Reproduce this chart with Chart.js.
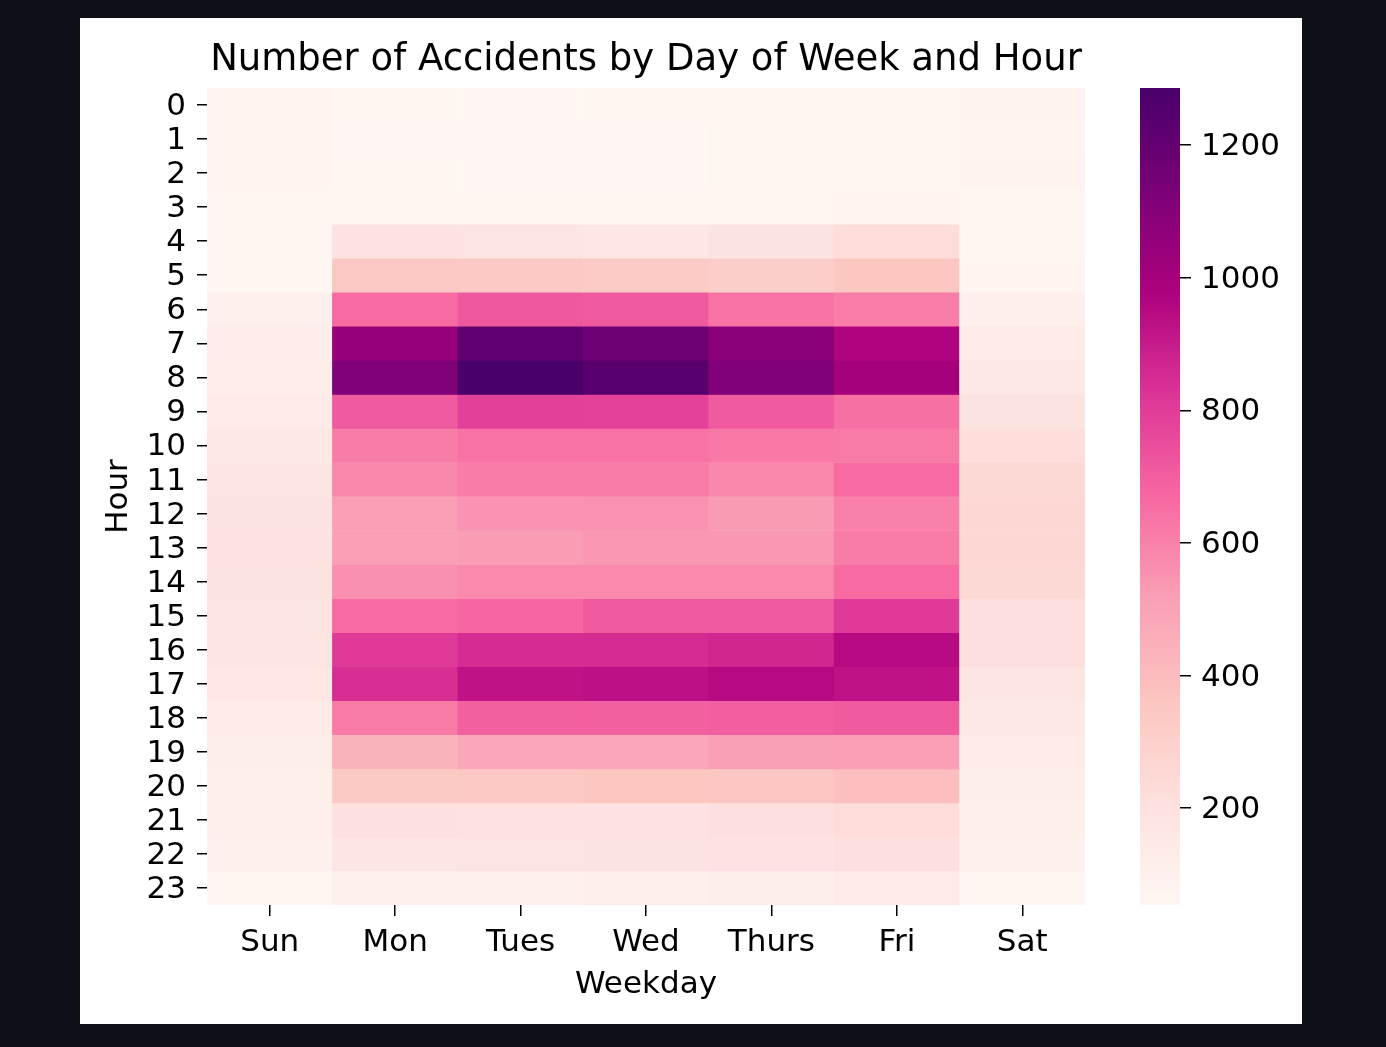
<!DOCTYPE html>
<html><head><meta charset="utf-8">
<script src="https://cdn.jsdelivr.net/npm/chart.js@4.4.1/dist/chart.umd.min.js"></script>
<style>
html,body{margin:0;padding:0;background:#0d1117;width:1386px;height:1047px;overflow:hidden}
#panel{position:absolute;left:80px;top:18px;width:1222px;height:1006px;background:#fff}
#main{position:absolute;left:0;top:0;width:1040px;height:1006px}
#cbar{position:absolute;left:1060px;top:40px;width:162px;height:877px}
</style></head><body>
<div id="panel"><div id="main"><canvas id="c1"></canvas></div><div id="cbar"><canvas id="c2"></canvas></div></div>
<script>
const weekdays = ['Sun','Mon','Tues','Wed','Thurs','Fri','Sat'];
const hours = ['0','1','2','3','4','5','6','7','8','9','10','11','12','13','14','15','16','17','18','19','20','21','22','23'];
const sun   = [74, 74, 76, 67, 65, 70, 100, 120, 122, 140, 154, 174, 190, 192, 190, 180, 178, 160, 140, 114, 108, 108, 100, 67];
const mon   = [62, 55, 58, 65, 195, 345, 665, 1049, 1115, 712, 614, 580, 515, 516, 558, 665, 806, 842, 620, 435, 334, 201, 174, 100];
const tues  = [55, 54, 56, 60, 183, 345, 716, 1214, 1286, 788, 642, 617, 550, 522, 575, 676, 851, 927, 693, 479, 345, 195, 181, 100];
const wed   = [58, 56, 57, 62, 168, 328, 712, 1170, 1233, 785, 642, 614, 555, 538, 575, 712, 851, 931, 693, 479, 356, 195, 188, 108];
const thurs = [62, 58, 60, 66, 188, 311, 642, 1085, 1115, 712, 625, 580, 527, 535, 575, 712, 866, 951, 700, 513, 350, 208, 195, 115];
const fri   = [70, 66, 64, 72, 231, 356, 608, 972, 1001, 648, 620, 665, 603, 614, 665, 806, 951, 927, 712, 516, 390, 231, 208, 135];
const sat   = [80, 76, 78, 70, 68, 72, 105, 135, 155, 185, 219, 248, 259, 259, 248, 210, 210, 175, 155, 135, 115, 108, 100, 70];
const colorbarTicks = [200, 400, 600, 800, 1000, 1200];
const rdpu = ['#fff7f3','#fde0dd','#fcc5c0','#fa9fb5','#f768a1','#dd3497','#ae017e','#7a0177','#49006a'];

const series = [sun, mon, tues, wed, thurs, fri, sat];
const allVals = series.flat();
const vmin = Math.min(...allVals), vmax = Math.max(...allVals);
const rgbStops = rdpu.map(h => [1,3,5].map(i => parseInt(h.substr(i,2),16)));
function cmap(v){
  let t = (v - vmin) / (vmax - vmin);
  t = Math.max(0, Math.min(1, t));
  const pos = t * (rgbStops.length - 1);
  const i = Math.min(rgbStops.length - 2, Math.floor(pos));
  const f = pos - i;
  const a = rgbStops[i], b = rgbStops[i+1];
  const c = a.map((x, k) => Math.round(x + (b[k] - x) * f));
  return 'rgb(' + c.join(',') + ')';
}

const FONT = 'DejaVu Sans';
Chart.defaults.font.family = FONT;
Chart.defaults.color = '#000';

const datasets = hours.map((h, hi) => ({
  data: weekdays.map(() => [hi - 0.5, hi + 0.5]),
  backgroundColor: series.map(s => cmap(s[hi])),
  borderWidth: 0,
  grouped: false,
  barPercentage: 1,
  categoryPercentage: 1
}));

new Chart(document.getElementById('c1'), {
  type: 'bar',
  data: { labels: weekdays, datasets },
  options: {
    responsive: true, maintainAspectRatio: false, animation: false, events: [],
    layout: { padding: { top: 0, left: 0, right: 35, bottom: 0 } },
    plugins: {
      legend: { display: false }, tooltip: { enabled: false },
      title: { display: true, fullSize: false, text: 'Number of Accidents by Day of Week and Hour',
        font: { size: 37, weight: 'normal' }, color: '#000', padding: { top: 20, bottom: 5.6 } }
    },
    scales: {
      x: {
        type: 'category',
        grid: { offset: false, drawOnChartArea: false, drawTicks: true, tickLength: 11, color: '#000', lineWidth: 1.5 },
        border: { display: false },
        ticks: { font: { size: 31 }, color: '#000', padding: 8, maxRotation: 0, autoSkip: false },
        title: { display: true, text: 'Weekday', font: { size: 31 }, color: '#000', padding: { top: 4, bottom: 20 } },
        afterFit: s => { s.height = 119; }
      },
      y: {
        type: 'linear', reverse: true, min: -0.5, max: 23.5,
        afterBuildTicks: s => { s.ticks = hours.map((h, i) => ({ value: i })); },
        grid: { drawOnChartArea: false, drawTicks: true, tickLength: 10, color: '#000', lineWidth: 1.5 },
        border: { display: false },
        ticks: { font: { size: 31 }, color: '#000', padding: 11, autoSkip: false, labelOffset: 2, callback: (v) => hours[v] },
        title: { display: true, text: 'Hour', font: { size: 31 }, color: '#000', padding: { top: 20, bottom: 0 } },
        afterFit: s => { s.width = 127; }
      }
    }
  }
});

new Chart(document.getElementById('c2'), {
  type: 'bar',
  data: { labels: [''], datasets: [{
    data: [[vmin, vmax]],
    backgroundColor: (ctx) => {
      const ch = ctx.chart; const y = ch.scales.y;
      if (!ch.chartArea || !y) return rdpu[4];
      const g = ch.ctx.createLinearGradient(0, y.getPixelForValue(vmin), 0, y.getPixelForValue(vmax));
      rdpu.forEach((c, i) => g.addColorStop(i / (rdpu.length - 1), c));
      return g;
    },
    borderWidth: 0, barPercentage: 1, categoryPercentage: 1
  }]},
  options: {
    responsive: true, maintainAspectRatio: false, animation: false, events: [],
    layout: { padding: { top: 30, bottom: 30, left: 0, right: 0 } },
    plugins: { legend: { display: false }, tooltip: { enabled: false } },
    scales: {
      x: { display: false },
      y: {
        position: 'right', min: vmin, max: vmax,
        afterBuildTicks: s => { s.ticks = colorbarTicks.map(v => ({ value: v })); },
        grid: { drawOnChartArea: false, drawTicks: true, tickLength: 11, color: '#000', lineWidth: 1.5 },
        border: { display: false },
        ticks: { font: { size: 31 }, color: '#000', padding: 10, autoSkip: false, labelOffset: 2, callback: (v) => String(v) },
        afterFit: s => { s.width = 122; }
      }
    }
  }
});
</script>
</body></html>
